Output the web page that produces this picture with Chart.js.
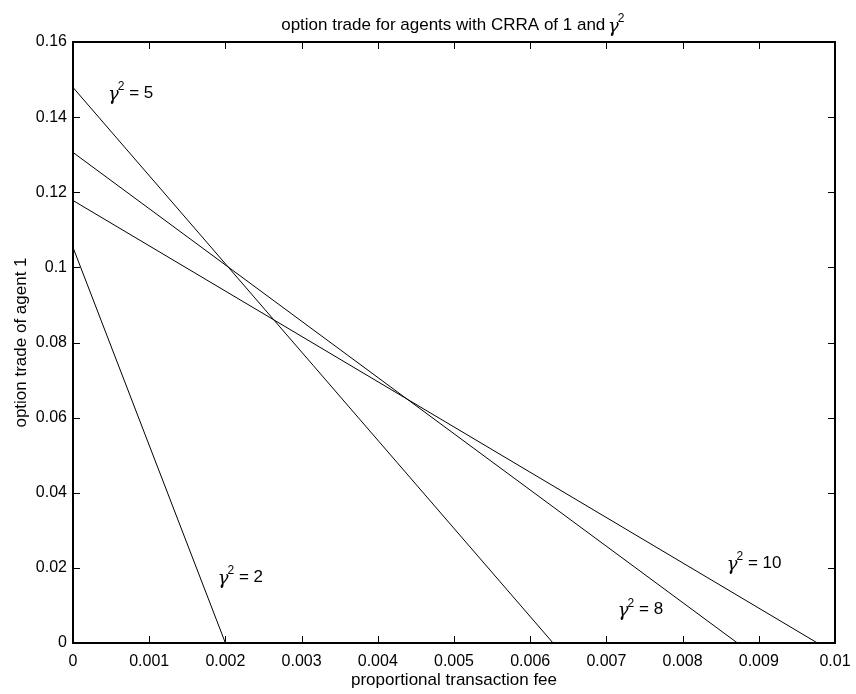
<!DOCTYPE html>
<html>
<head>
<meta charset="utf-8">
<script src="https://cdn.jsdelivr.net/npm/chart.js@4/dist/chart.umd.min.js"></script>
<style>
	body { margin: 0; background: #fff; }
	#wrap { width: 856px; height: 694px; }
</style>
</head>
<body>
<div id="wrap"><canvas id="optionChart" width="856" height="694"></canvas></div>
<script>
// Data: each curve is a straight line from the y-intercept to the zero crossing
const gammaSquared = [2, 5, 8, 10];
const tradeAtZeroFee = [0.1053, 0.1479, 0.1306, 0.1178];
const feeAtZeroTrade = [0.0020, 0.0063, 0.00872, 0.00977];

// Curve labels, placed in data units
const labelFee = [0.00190, 0.00046, 0.00715, 0.00858];
const labelTrade = [0.0176, 0.1464, 0.0090, 0.0213];

// Axis ticks
const xTicks = [0, 0.001, 0.002, 0.003, 0.004, 0.005, 0.006, 0.007, 0.008, 0.009, 0.01];
const xTickLabels = ["0", "0.001", "0.002", "0.003", "0.004", "0.005", "0.006", "0.007", "0.008", "0.009", "0.01"];
const yTicks = [0, 0.02, 0.04, 0.06, 0.08, 0.1, 0.12, 0.14, 0.16];
const yTickLabels = ["0", "0.02", "0.04", "0.06", "0.08", "0.1", "0.12", "0.14", "0.16"];

const FONT = "Liberation Sans";
Chart.defaults.color = "#000";
Chart.defaults.font.family = FONT;
Chart.defaults.font.size = 16;

const datasets = gammaSquared.map(function (g, i) {
	return {
		label: "gamma^2 = " + g,
		data: [
			{ x: 0, y: tradeAtZeroFee[i] },
			{ x: feeAtZeroTrade[i], y: 0 },
		],
		showLine: true,
		borderColor: "#000",
		borderWidth: 1,
		pointRadius: 0,
		fill: false,
	};
});

// Draw "γ² = n" style text, left edge at x, vertical middle at y
function drawGammaText(ctx, x, y, rest) {
	ctx.save();
	ctx.fillStyle = "#000";
	ctx.textBaseline = "middle";
	ctx.textAlign = "left";
	ctx.font = "italic 18px 'DejaVu Serif'";
	ctx.fillText("γ", x, y + 2);
	let w = ctx.measureText("γ").width;
	ctx.font = "12px " + FONT;
	ctx.fillText("2", x + w - 1, y - 6);
	w += ctx.measureText("2").width;
	if (rest) {
		ctx.font = "17px " + FONT;
		ctx.fillText(rest, x + w - 1, y);
	}
	ctx.restore();
}

// Box, inward ticks, title and curve labels (MATLAB look)
const matlabFrame = {
	id: "matlabFrame",
	afterDraw: function (chart) {
		const ctx = chart.ctx;
		const area = chart.chartArea;
		const xs = chart.scales.x;
		const ys = chart.scales.y;
		const tick = 7;

		ctx.save();
		ctx.strokeStyle = "#000";
		ctx.lineWidth = 1;
		ctx.beginPath();
		xs.ticks.forEach(function (t) {
			const px = Math.round(xs.getPixelForValue(t.value)) + 0.5;
			ctx.moveTo(px, area.bottom);
			ctx.lineTo(px, area.bottom - tick);
			ctx.moveTo(px, area.top);
			ctx.lineTo(px, area.top + tick);
		});
		ys.ticks.forEach(function (t) {
			const py = Math.round(ys.getPixelForValue(t.value)) + 0.5;
			ctx.moveTo(area.left, py);
			ctx.lineTo(area.left + tick, py);
			ctx.moveTo(area.right, py);
			ctx.lineTo(area.right - tick, py);
		});
		ctx.stroke();

		ctx.lineWidth = 2;
		ctx.strokeRect(area.left, area.top, area.right - area.left, area.bottom - area.top);
		ctx.restore();

		// Title
		ctx.save();
		ctx.font = "17px " + FONT;
		const titleText = "option trade for agents with CRRA of 1 and ";
		const tw = ctx.measureText(titleText).width;
		ctx.font = "italic 18px 'DejaVu Serif'";
		const gw = ctx.measureText("γ").width + 6;
		const cx = (area.left + area.right) / 2;
		const startX = cx - (tw + gw) / 2;
		ctx.font = "17px " + FONT;
		ctx.fillStyle = "#000";
		ctx.textBaseline = "middle";
		ctx.fillText(titleText, startX, 25);
		ctx.restore();
		drawGammaText(ctx, startX + tw - 2, 25, "");

		// Curve labels
		gammaSquared.forEach(function (g, i) {
			const px = xs.getPixelForValue(labelFee[i]);
			const py = ys.getPixelForValue(labelTrade[i]);
			drawGammaText(ctx, px, py, " = " + g);
		});
	},
};

new Chart(document.getElementById("optionChart").getContext("2d"), {
	type: "scatter",
	data: { datasets: datasets },
	options: {
		responsive: false,
		animation: false,
		layout: {
			padding: { top: 42, right: 21, left: 0, bottom: 0 },
		},
		plugins: {
			legend: { display: false },
			tooltip: { enabled: false },
			title: { display: false },
		},
		scales: {
			x: {
				type: "linear",
				min: 0,
				max: 0.01,
				afterBuildTicks: function (scale) {
					scale.ticks = xTicks.map(function (v) { return { value: v }; });
				},
				afterFit: function (scale) {
					scale.height = 51;
					// let the layout padding alone fix the plot edges
					scale.paddingLeft = 0;
					scale.paddingRight = 0;
				},
				ticks: {
					padding: 9,
					maxRotation: 0,
					autoSkip: false,
					callback: function (value, index) {
						return xTickLabels[index];
					},
				},
				grid: { display: false, drawTicks: false },
				border: { display: false },
				title: {
					display: true,
					text: "proportional transaction fee",
					font: { size: 17 },
					padding: { top: 0, bottom: 3 },
				},
			},
			y: {
				type: "linear",
				min: 0,
				max: 0.16,
				afterBuildTicks: function (scale) {
					scale.ticks = yTicks.map(function (v) { return { value: v }; });
				},
				afterFit: function (scale) {
					scale.width = 73;
					scale.paddingTop = 0;
					scale.paddingBottom = 0;
				},
				ticks: {
					padding: 6,
					autoSkip: false,
					callback: function (value, index) {
						return yTickLabels[index];
					},
				},
				grid: { display: false, drawTicks: false },
				border: { display: false },
				title: {
					display: true,
					text: "option trade of agent 1",
					font: { size: 17 },
					padding: { top: 11, bottom: 0 },
				},
			},
		},
	},
	plugins: [matlabFrame],
});
</script>
</body>
</html>
